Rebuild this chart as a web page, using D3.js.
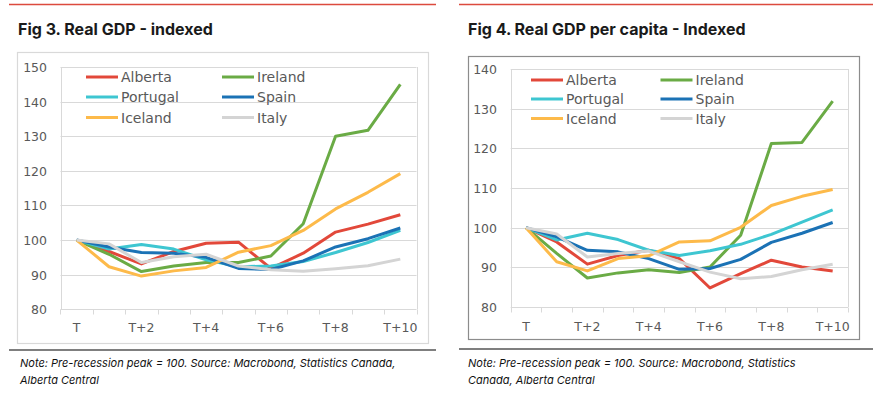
<!DOCTYPE html>
<html><head><meta charset="utf-8">
<script src="https://cdn.jsdelivr.net/npm/d3@7"></script>
<style>
html,body{margin:0;padding:0;background:#fff;}
svg{display:block;}
</style></head>
<body>
<svg id="c" width="873" height="398"></svg>
<script>
const categories = ["T","T+1","T+2","T+3","T+4","T+5","T+6","T+7","T+8","T+9","T+10"];
const tickLabels = ["T","T+2","T+4","T+6","T+8","T+10"];
const seriesNames = ["Alberta","Ireland","Portugal","Spain","Iceland","Italy"];
const seriesColors = ["#e2483a","#6aab45","#3ec6d1","#1b72b5","#fdba4a","#d4d4d4"];

// Fig 3: Real GDP - indexed
const gdpAlberta  = [100,96.7,93.1,96.7,99.1,99.4,91.8,96.2,102.3,104.6,107.3];
const gdpIreland  = [100,95.9,90.9,92.5,93.5,93.5,95.4,104.7,130.0,131.7,145.0];
const gdpPortugal = [100,97.4,98.7,97.4,94.3,92.3,92.5,93.8,96.4,99.3,102.8];
const gdpSpain    = [100,98.0,96.4,96.2,95.0,91.8,91.5,94.0,98.0,100.4,103.5];
const gdpIceland  = [100,92.3,89.6,91.1,92.1,96.5,98.4,102.8,109.0,113.8,119.2];
const gdpItaly    = [100,98.9,93.5,95.2,95.9,92.5,91.4,91.0,91.7,92.6,94.5];
const gdpTicks    = [80,90,100,110,120,130,140,150];

// Fig 4: Real GDP per capita - Indexed
const pcAlberta  = [100,96.4,90.8,93.0,94.3,92.2,84.8,88.4,91.8,90.1,89.1];
const pcIreland  = [100,93.5,87.3,88.6,89.4,88.7,90.1,98.1,121.2,121.5,131.9];
const pcPortugal = [100,96.9,98.6,97.0,94.3,93.0,94.2,95.8,98.3,101.4,104.5];
const pcSpain    = [100,97.7,94.3,93.9,92.2,89.5,89.7,92.0,96.3,98.6,101.3];
const pcIceland  = [100,91.4,89.1,92.2,92.9,96.4,96.7,100.1,105.6,107.9,109.6];
const pcItaly    = [100,98.4,92.6,93.5,94.1,91.4,88.8,87.1,87.7,89.4,90.8];
const pcTicks    = [80,90,100,110,120,130,140];

const titles = ["Fig 3. Real GDP - indexed","Fig 4. Real GDP per capita - Indexed"];
const notesLeft = ["Note: Pre-recession peak = 100. Source: Macrobond, Statistics Canada,","Alberta Central"];
const notesRight = ["Note: Pre-recession peak = 100. Source: Macrobond, Statistics","Canada, Alberta Central"];

const svg = d3.select("#c");

function drawPanel(o){
  const g = svg.append("g");
  // top red rule
  g.append("line").attr("x1",o.redX0).attr("x2",o.redX1).attr("y1",4.5).attr("y2",4.5)
    .attr("stroke","#dc4a3d").attr("stroke-width",1.3);
  // title
  g.append("text").attr("x",o.titleX).attr("y",35).text(o.title)
    .attr("font-family","Inter, 'Open Sans', sans-serif").attr("font-weight",700)
    .attr("font-size",16).attr("fill","#1a1a1a");
  // outer chart frame
  g.append("rect").attr("x",o.frame[0]+0.5).attr("y",o.frame[1]+0.5)
    .attr("width",o.frame[2]-o.frame[0]).attr("height",o.frame[3]-o.frame[1])
    .attr("fill","#fff").attr("stroke",o.frameColor).attr("stroke-width",1.2);

  const x = d3.scaleBand().domain(categories).range([o.px0,o.px1]).padding(0);
  const y = d3.scaleLinear().domain([o.ticks[0],o.ticks[o.ticks.length-1]]).range([o.py0,o.py1]);

  // gridlines
  g.append("g").selectAll("line").data(o.ticks.slice(1)).join("line")
    .attr("x1",o.px0).attr("x2",o.px1).attr("y1",d=>Math.round(y(d))+0.5).attr("y2",d=>Math.round(y(d))+0.5)
    .attr("stroke","#d9d9d9").attr("stroke-width",1);
  // plot area side borders
  [o.px0,o.px1].forEach(xx=>{
    g.append("line").attr("x1",Math.round(xx)+0.5).attr("x2",Math.round(xx)+0.5)
      .attr("y1",y(o.ticks[o.ticks.length-1])).attr("y2",y(o.ticks[0]))
      .attr("stroke","#d9d9d9").attr("stroke-width",1);
  });

  // y axis
  const yAxis = d3.axisLeft(y).tickValues(o.ticks).tickSize(0).tickPadding(0);
  const ya = g.append("g").attr("transform",`translate(${o.yLabelX},0)`).call(yAxis);
  ya.select(".domain").remove();
  ya.selectAll("text").attr("font-family","'DejaVu Sans', Verdana, sans-serif")
    .attr("font-size",12.5).attr("fill","#595959").attr("dy","0.36em");

  // x axis
  const xAxis = d3.axisBottom(x).tickValues(tickLabels).tickSize(0).tickPadding(0);
  const xa = g.append("g").attr("transform",`translate(0,${o.xLabelY})`).call(xAxis);
  xa.select(".domain").remove();
  xa.selectAll("text").attr("font-family","'DejaVu Sans', Verdana, sans-serif")
    .attr("font-size",12.5).attr("fill","#595959").attr("dy","0");
  // baseline and boundary ticks
  const by = Math.round(y(o.ticks[0]))+0.5;
  g.append("line").attr("x1",o.px0).attr("x2",o.px1).attr("y1",by).attr("y2",by)
    .attr("stroke","#d9d9d9");
  const bounds = categories.map(c=>x(c)).concat([x(categories[categories.length-1])+x.bandwidth()]);
  g.append("g").selectAll("line").data(bounds).join("line")
    .attr("x1",d=>Math.round(d)+0.5).attr("x2",d=>Math.round(d)+0.5)
    .attr("y1",by).attr("y2",by+5).attr("stroke","#d9d9d9");

  // lines
  const line = d3.line().x((d,i)=>x(categories[i])+x.bandwidth()/2).y(d=>y(d));
  o.series.forEach((s,i)=>{
    g.append("path").datum(s).attr("d",line).attr("fill","none")
      .attr("stroke",seriesColors[i]).attr("stroke-width",3).attr("stroke-linejoin","round");
  });

  // legend
  seriesNames.forEach((n,i)=>{
    const col = i%2, row = Math.floor(i/2);
    const lx = o.legX[col], ly = o.legY[row];
    g.append("line").attr("x1",lx).attr("x2",lx+32).attr("y1",ly).attr("y2",ly)
      .attr("stroke",seriesColors[i]).attr("stroke-width",3);
    g.append("text").attr("x",lx+35).attr("y",ly).attr("dy","0.36em").text(n)
      .attr("font-family","'DejaVu Sans', Verdana, sans-serif").attr("font-size",14)
      .attr("fill","#595959");
  });

  // bottom black rule
  g.append("line").attr("x1",o.redX0).attr("x2",o.redX1).attr("y1",o.sepY).attr("y2",o.sepY)
    .attr("stroke","#000").attr("stroke-width",1.2);
  // notes
  o.notes.forEach((t,i)=>{
    g.append("text").attr("x",o.noteX).attr("y",367+i*17).text(t)
      .attr("font-family","Inter, 'Open Sans', sans-serif").attr("font-style","italic")
      .attr("font-size",11).attr("fill","#111");
  });
}

drawPanel({
  title:titles[0], titleX:18, redX0:9, redX1:436, frame:[17,52,428,343], frameColor:"#d9d9d9",
  px0:60.5, px1:416.5, py0:309.3, py1:67, ticks:gdpTicks, yLabelX:47, xLabelY:332,
  series:[gdpAlberta,gdpIreland,gdpPortugal,gdpSpain,gdpIceland,gdpItaly],
  legX:[86,222], legY:[77,97,117.5], sepY:350, notes:notesLeft, noteX:20
});
drawPanel({
  title:titles[1], titleX:468, redX0:459, redX1:873, frame:[468,56,859,339], frameColor:"#8c8c8c",
  px0:510.7, px1:848, py0:307, py1:69, ticks:pcTicks, yLabelX:497, xLabelY:331,
  series:[pcAlberta,pcIreland,pcPortugal,pcSpain,pcIceland,pcItaly],
  legX:[531,660.5], legY:[80,99,118.5], sepY:349, notes:notesRight, noteX:468
});
</script>
</body></html>
